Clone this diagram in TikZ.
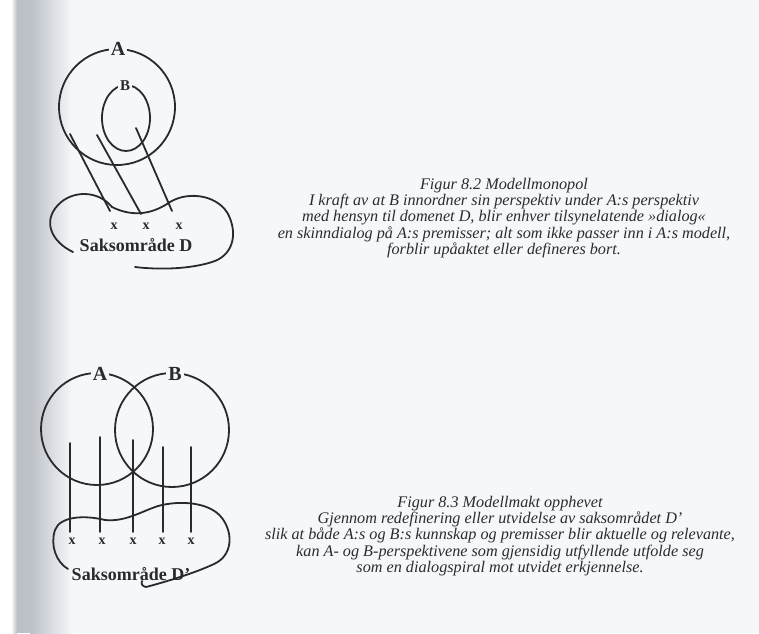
\documentclass[tikz,border=0pt]{standalone}
\usepackage{fontspec}
\setmainfont{Liberation Serif}
\definecolor{bgc}{HTML}{F5F7F9}
\definecolor{inkc}{HTML}{2A2A2C}
\definecolor{txtc}{HTML}{2C2C2E}
\definecolor{edgec}{HTML}{BCC0C7}
\begin{document}
\begin{tikzpicture}[x=1pt,y=-1pt,
  ink/.style={draw=inkc, line width=1.8pt, line cap=round},
  biglab/.style={font=\bfseries\fontsize{20}{20}\selectfont, text=inkc, fill=bgc, inner sep=2pt},
  smalllab/.style={font=\bfseries\fontsize{15}{15}\selectfont, text=inkc, fill=bgc, inner sep=1.5pt},
  xmark/.style={font=\bfseries\fontsize{14}{14}\selectfont, text=inkc, inner sep=0pt},
  domlab/.style={font=\bfseries\fontsize{18}{18}\selectfont, text=inkc, inner sep=1pt},
  caption/.style={font=\itshape\fontsize{16.2}{16.2}\selectfont, text=txtc, align=center, inner sep=0pt}]
% background and page edge
\useasboundingbox (0,0) rectangle (759,633);
\fill[bgc] (0,0) rectangle (759,633);
\fill[white] (0,0) rectangle (11,633);
\shade[left color=white, right color=edgec] (11,0) rectangle (17,633);
\fill[edgec] (17,0) rectangle (30,633);
\shade[left color=edgec, right color=bgc] (30,0) rectangle (72,633);

% ---------- Figure 8.2 ----------
\draw[ink] (117,107) circle[radius=58pt];
\draw[ink] (126,118) ellipse[x radius=24pt, y radius=33pt];
\coordinate (a1) at (70,134);
\coordinate (a2) at (97,135);
\coordinate (a3) at (136,128);
\coordinate (d1) at (110,211);
\coordinate (d2) at (141,214);
\coordinate (d3) at (172,211);
\draw[ink] (a1) -- (d1);
\draw[ink] (a2) -- (d2);
\draw[ink] (a3) -- (d3);
\draw[ink] (73,252) .. controls (52,242) and (42,222) .. (58,205)
  .. controls (72,190) and (98,190) .. (112,207)
  .. controls (130,216) and (150,216) .. (170,202)
  .. controls (190,190) and (220,196) .. (229,216)
  .. controls (238,236) and (232,256) .. (212,262)
  .. controls (190,269) and (160,270) .. (135,267);
\node[biglab] (A1) at (118,49) {A};
\node[smalllab] (B1) at (125,86) {B};
\node[xmark] (x11) at (114,226) {x};
\node[xmark] (x12) at (146,226) {x};
\node[xmark] (x13) at (179,226) {x};
\node[domlab] (D1) at (136,245) {Saksområde D};

\node[caption] (C1) at (504,218) {Figur 8.2 Modellmonopol\\
I kraft av at B innordner sin perspektiv under A:s perspektiv\\
med hensyn til domenet D, blir enhver tilsynelatende »dialog«\\
en skinndialog på A:s premisser; alt som ikke passer inn i A:s modell,\\
forblir upåaktet eller defineres bort.};

% ---------- Figure 8.3 ----------
\draw[ink] (97,429) circle[radius=56pt];
\draw[ink] (172,430) circle[radius=57pt];
\foreach \i/\xx/\yt in {1/70/443, 2/100/437, 3/133/440, 4/163/447, 5/191/447}{
  \coordinate (t\i) at (\xx,\yt);
  \coordinate (b\i) at (\xx,532);
  \draw[ink] (t\i) -- (b\i);
}
\draw[ink] (68,569) .. controls (56,562) and (50,545) .. (55,530)
  .. controls (60,516) and (85,515) .. (105,520)
  .. controls (125,522) and (140,512) .. (158,506)
  .. controls (180,500) and (210,502) .. (222,518)
  .. controls (234,534) and (232,556) .. (214,564)
  .. controls (195,573) and (165,582) .. (146,587)
  .. controls (142,586) and (141,584) .. (142,581);
\node[biglab] (A2) at (100,374) {A};
\node[biglab] (B2) at (175,374) {B};
\foreach \i/\xx in {1/72, 2/102, 3/133, 4/162, 5/191}{
  \node[xmark] (x2\i) at (\xx,541) {x};
}
\node[domlab] (D2) at (131,574) {Saksområde D'};

\node[caption] (C2) at (500,536) {Figur 8.3 Modellmakt opphevet\\
Gjennom redefinering eller utvidelse av saksområdet D'\\
slik at både A:s og B:s kunnskap og premisser blir aktuelle og relevante,\\
kan A- og B-perspektivene som gjensidig utfyllende utfolde seg\\
som en dialogspiral mot utvidet erkjennelse.};
\end{tikzpicture}
\end{document}
